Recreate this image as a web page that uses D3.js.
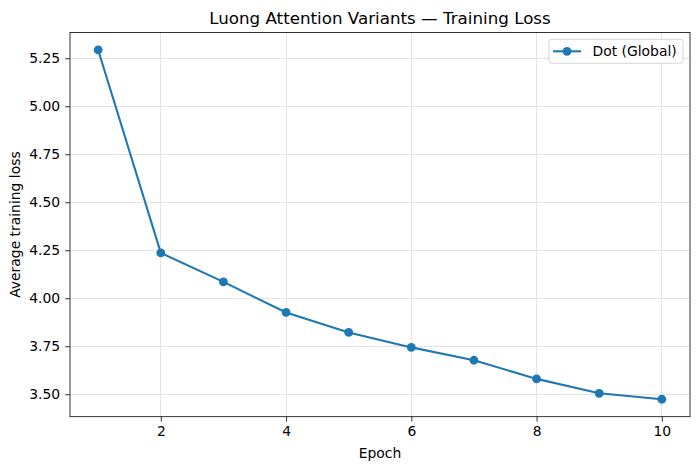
<!DOCTYPE html>
<html><head><meta charset="utf-8">
<script src="https://cdn.jsdelivr.net/npm/d3@7"></script>
<style>body{margin:0;background:#fff}text{font-family:"DejaVu Sans",sans-serif;fill:#000}</style>
</head><body><svg id="c" width="699" height="470"></svg>
<script>
const epochs = [1,2,3,4,5,6,7,8,9,10];
const lossDot = [5.293,4.236,4.085,3.926,3.822,3.744,3.677,3.580,3.505,3.474];
const xTicks = [2,4,6,8,10];
const yTicks = [3.50,3.75,4.00,4.25,4.50,4.75,5.00,5.25];
const seriesName = "Dot (Global)";
const color = "#1f77b4";

const svg = d3.select("#c");
const L=70,R=690,T=32.5,B=416.7;
const xr = d3.extent(epochs), xm=(xr[1]-xr[0])*0.05;
const yr = d3.extent(lossDot), ym=(yr[1]-yr[0])*0.05;
const x = d3.scaleLinear().domain([xr[0]-xm,xr[1]+xm]).range([L,R]);
const y = d3.scaleLinear().domain([yr[0]-ym,yr[1]+ym]).range([B,T]);

// grid
const g = svg.append("g").attr("shape-rendering","crispEdges");
g.selectAll(".gx").data(xTicks).join("line").attr("x1",d=>x(d)).attr("x2",d=>x(d)).attr("y1",T).attr("y2",B)
 .attr("stroke","#e4e4e4").attr("stroke-width",1);
g.selectAll(".gy").data(yTicks).join("line").attr("y1",d=>y(d)).attr("y2",d=>y(d)).attr("x1",L).attr("x2",R)
 .attr("stroke","#e4e4e4").attr("stroke-width",1);

// axes
const xa = svg.append("g").attr("transform",`translate(0,${B})`)
 .call(d3.axisBottom(x).tickValues(xTicks).tickSize(4.9).tickPadding(4.9).tickFormat(d3.format("d")));
const ya = svg.append("g").attr("transform",`translate(${L},0)`)
 .call(d3.axisLeft(y).tickValues(yTicks).tickSize(4.9).tickPadding(4.9).tickFormat(d3.format(".2f")));
[xa,ya].forEach(a=>{a.select(".domain").remove();a.selectAll("text").attr("font-size","13.9px").attr("font-family","DejaVu Sans").attr("fill","#000");a.selectAll("line").attr("stroke","#000").attr("stroke-width",0.8);});
xa.selectAll("text").attr("dy","0.71em");

svg.append("rect").attr("x",L).attr("y",T).attr("width",R-L).attr("height",B-T).attr("fill","none").attr("stroke","#000").attr("stroke-width",0.8);

// line
svg.append("path").datum(epochs.map((e,i)=>[e,lossDot[i]]))
 .attr("d",d3.line().x(d=>x(d[0])).y(d=>y(d[1]))).attr("fill","none").attr("stroke",color).attr("stroke-width",2.08).attr("stroke-linejoin","round");
svg.selectAll(".pt").data(epochs.map((e,i)=>[e,lossDot[i]])).join("circle")
 .attr("cx",d=>x(d[0])).attr("cy",d=>y(d[1])).attr("r",4.4).attr("fill",color);

// labels
svg.append("text").attr("x",(L+R)/2).attr("y",24).attr("text-anchor","middle").attr("font-size","16.7px").text("Luong Attention Variants — Training Loss");
svg.append("text").attr("x",(L+R)/2).attr("y",458).attr("text-anchor","middle").attr("font-size","13.9px").text("Epoch");
svg.append("text").attr("transform",`translate(20,${(T+B)/2}) rotate(-90)`).attr("text-anchor","middle").attr("font-size","13.9px").text("Average training loss");

// legend
const lg = svg.append("g");
lg.append("rect").attr("x",549).attr("y",39.3).attr("width",134).attr("height",24).attr("rx",3).attr("fill","#fff").attr("fill-opacity",0.8).attr("stroke","#cccccc").attr("stroke-width",0.8);
lg.append("line").attr("x1",553).attr("x2",581).attr("y1",51.3).attr("y2",51.3).attr("stroke",color).attr("stroke-width",2.08);
lg.append("circle").attr("cx",567).attr("cy",51.3).attr("r",4.4).attr("fill",color);
lg.append("text").attr("x",592.5).attr("y",56).attr("font-size","13.9px").text(seriesName);
</script></body></html>
